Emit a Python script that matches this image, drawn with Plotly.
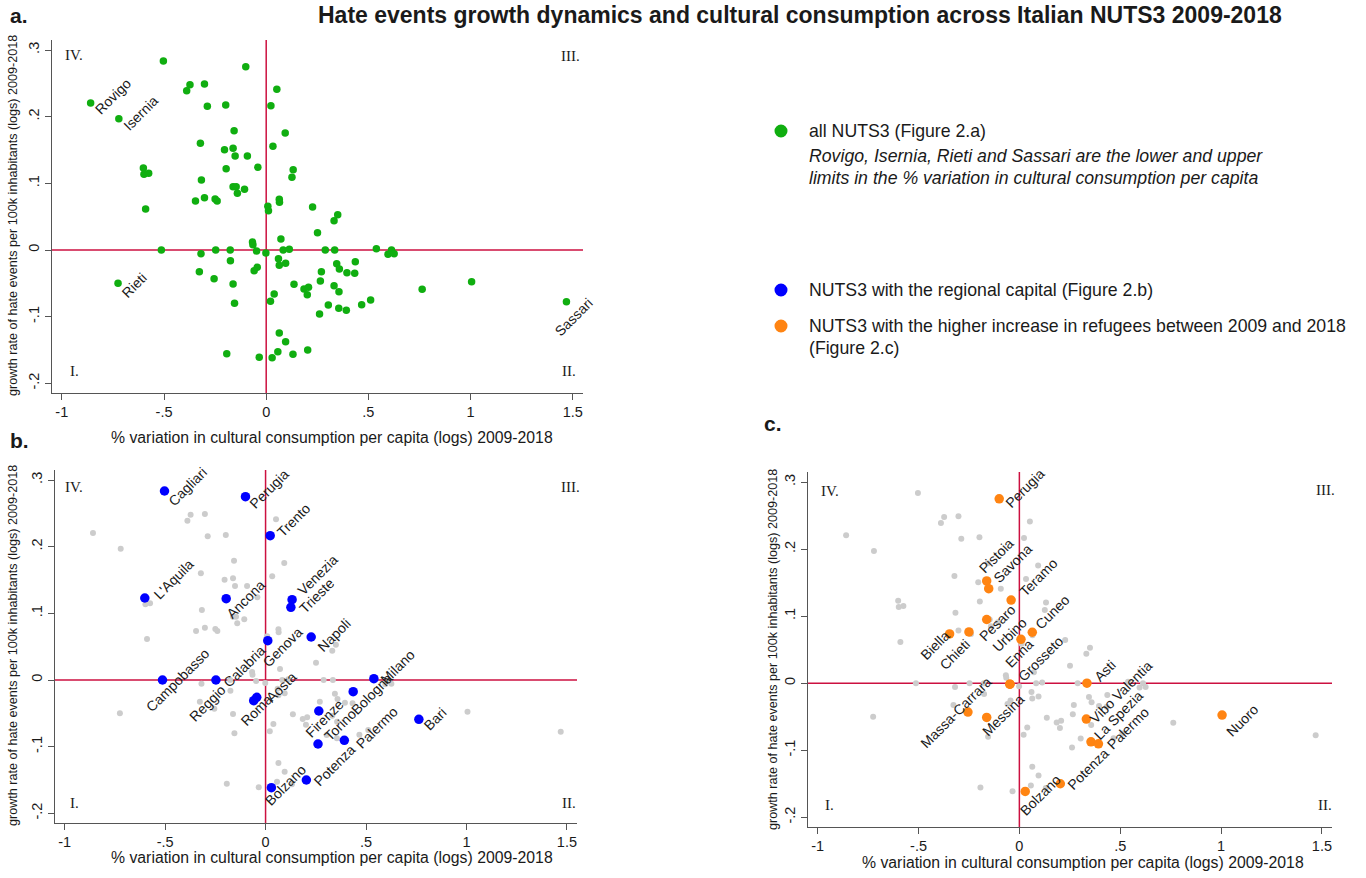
import plotly.graph_objects as go

W, H = 1366, 878

# ---------------- data ----------------
# all NUTS3: % variation in cultural consumption per capita (x) and growth rate of hate events (y)
x_all = [-0.859, -0.721, -0.503, -0.100, -0.389, -0.373, -0.302, -0.288, -0.198, 0.052,
         0.023, 0.093, 0.033, -0.157, -0.322, -0.204, -0.162, -0.152, -0.092, -0.041,
         -0.196, 0.132, 0.126, -0.601, -0.598, -0.575, -0.317, -0.162, -0.147, -0.141,
         -0.106, -0.302, -0.346, -0.250, -0.240, 0.064, 0.065, 0.008, 0.011, -0.590,
         0.227, 0.350, 0.332, -0.513, -0.725, -0.319, -0.247, -0.176, -0.327, -0.255,
         -0.175, -0.162, -0.155, -0.067, -0.065, -0.047, -0.0015, -0.044, -0.059, 0.072,
         0.083, 0.113, 0.060, 0.064, 0.095, 0.136, 0.039, 0.021, 0.064, 0.095,
         0.057, 0.131, -0.193, -0.034, 0.029, 0.251, 0.289, 0.335, 0.539, 0.596,
         0.613, 0.626, 0.345, 0.358, 0.436, 0.395, 0.433, 0.270, 0.265, 0.185,
         0.207, 0.201, 0.332, 0.356, 0.763, 1.005, 1.469, 0.304, 0.511, 0.467,
         0.355, 0.392, 0.261, 0.203]
y_all = [0.2205, 0.197, 0.2835, 0.275, 0.239, 0.248, 0.249, 0.2155, 0.2175, 0.241,
         0.2165, 0.1755, 0.1555, 0.179, 0.160, 0.1505, 0.1525, 0.141, 0.141, 0.124,
         0.122, 0.1205, 0.109, 0.123, 0.1135, 0.115, 0.105, 0.095, 0.095, 0.085,
         0.091, 0.0785, 0.0735, 0.0765, 0.0735, 0.076, 0.0715, 0.0655, 0.059, 0.0615,
         0.0645, 0.053, 0.044, 0.0, -0.050, -0.0055, 0.0, 0.0, -0.0325, -0.043,
         -0.016, -0.051, -0.080, 0.012, 0.008, -0.0015, -0.0045, -0.026, -0.031, 0.0165,
         0.0, 0.001, -0.013, -0.023, -0.020, -0.0515, -0.066, -0.077, -0.1245, -0.1375,
         -0.1525, -0.1565, -0.1555, -0.161, -0.1615, 0.026, 0.0, 0.0, 0.002, -0.0065,
         0.0, -0.0055, -0.0205, -0.0285, -0.0175, -0.034, -0.035, -0.0325, -0.0465, -0.0585,
         -0.056, -0.067, -0.0535, -0.0625, -0.059, -0.0475, -0.0775, -0.0825, -0.075, -0.082,
         -0.0875, -0.0905, -0.096, -0.150]

# lower / upper limits (panel a)
extreme_names = ["Rovigo", "Isernia", "Rieti", "Sassari"]
extreme_x = [-0.859, -0.721, -0.725, 1.469]
extreme_y = [0.2205, 0.197, -0.050, -0.0775]

# NUTS3 with the regional capital (panel b)
capital_names = ["Cagliari", "Perugia", "Trento", "L'Aquila", "Ancona", "Venezia", "Trieste",
                 "Genova", "Napoli", "Campobasso", "Reggio Calabria", "Roma", "Aosta",
                 "Bolzano", "Milano", "Bologna", "Firenze", "Torino", "Palermo", "Potenza", "Bari"]
capital_x = [-0.503, -0.100, 0.023, -0.601, -0.196, 0.132, 0.126, 0.011, 0.227, -0.513,
             -0.247, -0.059, -0.044, 0.029, 0.539, 0.436, 0.265, 0.261, 0.392, 0.203, 0.763]
capital_y = [0.2835, 0.275, 0.2165, 0.123, 0.122, 0.1205, 0.109, 0.059, 0.0645, 0.0,
             0.0, -0.031, -0.026, -0.1615, 0.002, -0.0175, -0.0465, -0.096, -0.0905, -0.150, -0.059]

# NUTS3 with the higher increase in refugees (panel c)
refugee_names = ["Perugia", "Pistoia", "Savona", "Teramo", "Pesaro", "Biella", "Chieti", "Urbino",
                 "Cuneo", "Enna", "Grosseto", "Massa-Carrara", "Messina", "Bolzano", "Asti",
                 "Vibo Valentia", "La Spezia", "Palermo", "Potenza", "Nuoro"]
refugee_x = [-0.100, -0.162, -0.152, -0.041, -0.162, -0.346, -0.250, 0.008, 0.064, -0.047,
             -0.047, -0.255, -0.162, 0.029, 0.335, 0.332, 0.355, 0.392, 0.203, 1.005]
refugee_y = [0.275, 0.1525, 0.141, 0.124, 0.095, 0.0735, 0.0765, 0.0655, 0.076, -0.0015,
             -0.0015, -0.043, -0.051, -0.1615, 0.0, -0.0535, -0.0875, -0.0905, -0.150, -0.0475]

x_tickvals = [-1, -0.5, 0, 0.5, 1, 1.5]
x_ticktext = ["-1", "-.5", "0", ".5", "1", "1.5"]
y_tickvals = [-0.2, -0.1, 0, 0.1, 0.2, 0.3]
y_ticktext = ["-.2", "-.1", "0", ".1", ".2", ".3"]

# ---------------- label placement (pixel offsets of label box lower-left from marker) ----------------
off_a = {"Rovigo": (2.6, 12), "Isernia": (2.7, 13), "Rieti": (2, 15), "Sassari": (-14, 35)}
off_b = {"Cagliari": (1.7, 16), "Perugia": (2, 12.7), "Trento": (5, 2.3), "L'Aquila": (7, 2.4),
         "Ancona": (-1.7, 21), "Venezia": (3.3, -3.3), "Trieste": (6.4, 7.3), "Genova": (-7, 27),
         "Napoli": (4.3, 15.4), "Campobasso": (-18.7, 32.4), "Reggio Calabria": (-28.4, 42.4),
         "Roma": (-15, 26.6), "Aosta": (7.3, 5.6), "Bolzano": (-8.4, 18.7), "Milano": (4.6, 6.3),
         "Bologna": (-4.4, 24), "Firenze": (-15, 27), "Torino": (4, -2.3), "Palermo": (9.3, 9.7),
         "Potenza": (5.7, 7.3), "Bari": (3, 12.4)}
off_c = {"Perugia": (4.6, 10), "Pistoia": (-10.3, -7), "Savona": (3, -5), "Teramo": (6.6, -3),
         "Pesaro": (-10, 22.7), "Biella": (-30.7, 26.7), "Chieti": (-30.7, 38.7), "Urbino": (-30.7, 13.7),
         "Cuneo": (1.3, -2), "Enna": (-6.3, -15.7), "Grosseto": (5.7, -2), "Massa-Carrara": (-49.4, 36.6),
         "Messina": (-6.3, 19.4), "Bolzano": (-7.4, 25), "Asti": (5, -1), "Vibo Valentia": (1.3, 4.6),
         "La Spezia": (1, -1.7), "Palermo": (7, 6.3), "Potenza": (4.7, 6.7), "Nuoro": (1.6, 22.4)}

GREEN = "#10ae10"
BLUE = "#0000ff"
ORANGE = "#ff8412"
GRAY = "#cccccc"
RED = "#cc1040"
AXC = "#555555"
TXT = "#1a1a1a"
SANS = "Liberation Sans, Arial, sans-serif"
SERIF = "Liberation Serif, Times New Roman, serif"


def px(x):
    return x / W


def py(y):
    return 1 - y / H


# panel domains in pixels: (left, right, top, bottom)
dom = {"a": (52, 583, 40, 393), "b": (55, 577, 470, 823), "c": (808, 1332, 472, 827)}
axis_ids = {"a": ("x", "y"), "b": ("x2", "y2"), "c": ("x3", "y3")}

fig = go.Figure()

# panel a
fig.add_trace(go.Scatter(x=x_all, y=y_all, mode="markers", xaxis="x", yaxis="y",
                         marker=dict(color=GREEN, size=7.5), hoverinfo="skip"))
# panel b
fig.add_trace(go.Scatter(x=x_all, y=y_all, mode="markers", xaxis="x2", yaxis="y2",
                         marker=dict(color=GRAY, size=6), hoverinfo="skip"))
fig.add_trace(go.Scatter(x=capital_x, y=capital_y, mode="markers", xaxis="x2", yaxis="y2",
                         marker=dict(color=BLUE, size=9.5), hoverinfo="skip"))
# panel c
fig.add_trace(go.Scatter(x=x_all, y=y_all, mode="markers", xaxis="x3", yaxis="y3",
                         marker=dict(color=GRAY, size=6), hoverinfo="skip"))
fig.add_trace(go.Scatter(x=refugee_x, y=refugee_y, mode="markers", xaxis="x3", yaxis="y3",
                         marker=dict(color=ORANGE, size=9.5), hoverinfo="skip"))

layout = dict(width=W, height=H, margin=dict(l=0, r=0, t=0, b=0),
              paper_bgcolor="white", plot_bgcolor="white", showlegend=False,
              font=dict(family=SANS, color=TXT))

for key, (xa, ya) in axis_ids.items():
    l, r, t, b = dom[key]
    xname = "xaxis" if xa == "x" else "xaxis" + xa[1:]
    yname = "yaxis" if ya == "y" else "yaxis" + ya[1:]
    layout[xname] = dict(domain=[px(l), px(r)], range=[-1.048, 1.55], anchor=ya,
                         tickvals=x_tickvals, ticktext=x_ticktext, showgrid=False, zeroline=False,
                         showline=True, linecolor=AXC, linewidth=1, ticks="outside", ticklen=6,
                         tickcolor=AXC, tickfont=dict(size=14.5, color=TXT, family=SANS))
    layout[yname] = dict(domain=[py(b), py(t)], range=[-0.2145, 0.315], anchor=xa,
                         tickvals=y_tickvals, ticktext=y_ticktext, tickangle=-90, showgrid=False,
                         zeroline=False, showline=True, linecolor=AXC, linewidth=1, ticks="outside",
                         ticklen=6, tickcolor=AXC, tickfont=dict(size=14.5, color=TXT, family=SANS))

fig.update_layout(**layout)

shapes = []
for key, (xa, ya) in axis_ids.items():
    shapes.append(dict(type="line", xref=xa, yref=ya + " domain", x0=0, x1=0, y0=0, y1=1,
                       line=dict(color=RED, width=1.5), layer="below"))
    shapes.append(dict(type="line", xref=xa + " domain", yref=ya, x0=0, x1=1, y0=0, y1=0,
                       line=dict(color=RED, width=1.5), layer="below"))

# legend markers
for (cx, cy, col) in [(781, 131, GREEN), (781, 290, BLUE), (781, 326, ORANGE)]:
    rr = 6.5
    shapes.append(dict(type="circle", xref="paper", yref="paper",
                       x0=px(cx - rr), x1=px(cx + rr), y0=py(cy + rr), y1=py(cy - rr),
                       fillcolor=col, line=dict(color=col, width=0)))

annotations = []


def ann(text, x, y, xanchor="left", yanchor="middle", size=13, family=SANS, bold=False,
        italic=False, angle=0, color=TXT):
    t = text
    if bold:
        t = "<b>" + t + "</b>"
    if italic:
        t = "<i>" + t + "</i>"
    annotations.append(dict(text=t, x=px(x), y=py(y), xref="paper", yref="paper",
                            xanchor=xanchor, yanchor=yanchor, showarrow=False, textangle=angle,
                            font=dict(size=size, family=family, color=color)))


# point labels
def point_labels(names, xs, ys, offs, xa, ya):
    for n, xv, yv in zip(names, xs, ys):
        dx, dy = offs[n]
        annotations.append(dict(text=n, x=xv, y=yv, xref=xa, yref=ya, xanchor="left",
                                yanchor="bottom", showarrow=False, textangle=-45,
                                xshift=dx - 4, yshift=-dy - 5,
                                font=dict(size=14, family=SANS, color=TXT)))


point_labels(extreme_names, extreme_x, extreme_y, off_a, "x", "y")
point_labels(capital_names, capital_x, capital_y, off_b, "x2", "y2")
point_labels(refugee_names, refugee_x, refugee_y, off_c, "x3", "y3")

# quadrant labels
quad = {"a": [(63, 55, "left"), (582, 56, "right"), (68, 371, "left"), (578, 371, "right")],
        "b": [(63, 487, "left"), (582, 487, "right"), (68, 803, "left"), (578, 803, "right")],
        "c": [(819, 491, "left"), (1337, 490, "right"), (823, 805, "left"), (1334, 805, "right")]}
for key, lst in quad.items():
    for (qx, qy, anc), txt in zip(lst, ["IV.", "III.", "I.", "II."]):
        ann(txt, qx, qy, xanchor=anc, size=15, family=SERIF)

# axis titles
YT = "growth rate of hate events per 100k inhabitants (logs) 2009-2018"
XT = "% variation in cultural consumption per capita (logs) 2009-2018"
ann(YT, 13, 216, xanchor="center", size=12.6, angle=-90)
ann(YT, 13, 646, xanchor="center", size=12.6, angle=-90)
ann(YT, 773, 650, xanchor="center", size=12.6, angle=-90)
ann(XT, 332, 437, xanchor="center", size=15.8)
ann(XT, 332, 857, xanchor="center", size=15.8)
ann(XT, 1083, 862, xanchor="center", size=15.8)

# titles
ann("Hate events growth dynamics and cultural consumption across Italian NUTS3 2009-2018",
    800, 15, xanchor="center", size=23, bold=True)
ann("a.", 8, 15, size=21, bold=True)
ann("b.", 8, 440, size=21, bold=True)
ann("c.", 762, 423, size=21, bold=True)

# legend text
LS = 17.7
ann("all NUTS3 (Figure 2.a)", 807, 131, size=LS)
ann("Rovigo, Isernia, Rieti and Sassari are the lower and upper", 807, 156, size=LS, italic=True)
ann("limits in the % variation in cultural consumption per capita", 807, 178, size=LS, italic=True)
ann("NUTS3 with the regional capital (Figure 2.b)", 807, 290, size=LS)
ann("NUTS3 with the higher increase in refugees between 2009 and 2018", 807, 326, size=LS)
ann("(Figure 2.c)", 807, 348, size=LS)

fig.update_layout(shapes=shapes, annotations=annotations)

fig.write_html("out.html", config={"displayModeBar": False},
               post_script="document.body.style.margin='0px';document.body.style.padding='0px';")
